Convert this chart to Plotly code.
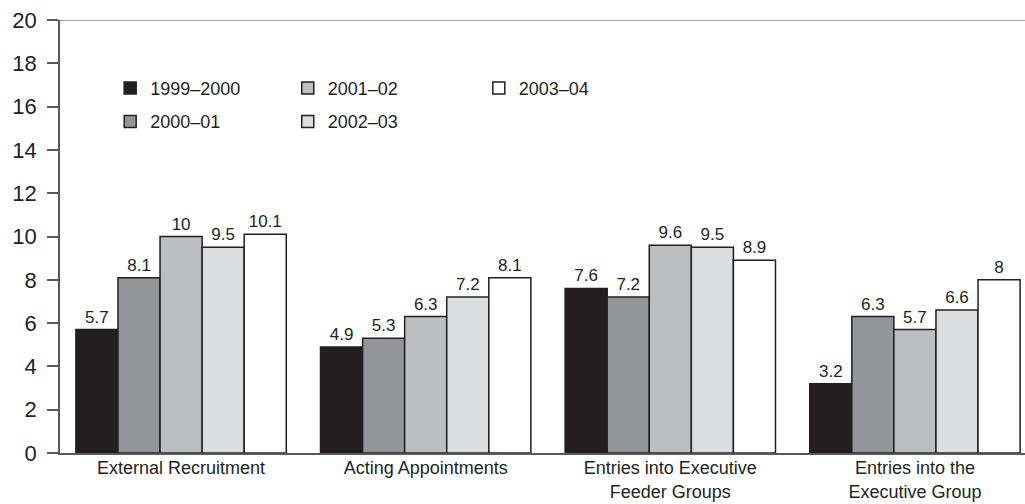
import plotly.graph_objects as go

categories = ["External Recruitment", "Acting Appointments",
              "Entries into Executive<br>Feeder Groups", "Entries into the<br>Executive Group"]
series_names = ["1999–2000", "2000–01", "2001–02", "2002–03", "2003–04"]
v_1999_2000 = [5.7, 4.9, 7.6, 3.2]
v_2000_01 = [8.1, 5.3, 7.2, 6.3]
v_2001_02 = [10, 6.3, 9.6, 5.7]
v_2002_03 = [9.5, 7.2, 9.5, 6.6]
v_2003_04 = [10.1, 8.1, 8.9, 8]
y_ticks = [0, 2, 4, 6, 8, 10, 12, 14, 16, 18, 20]

values = [v_1999_2000, v_2000_01, v_2001_02, v_2002_03, v_2003_04]
colors = ["#231f20", "#939598", "#bcbec0", "#dcddde", "#ffffff"]
legend_of = ["legend", "legend", "legend2", "legend2", "legend3"]

FONT = "Liberation Sans, Arial, sans-serif"
TXT = "#231f20"

fig = go.Figure()
for name, vals, col, lg in zip(series_names, values, colors, legend_of):
    fig.add_trace(go.Bar(
        name=name, x=categories, y=vals,
        marker=dict(color=col, line=dict(color="#231f20", width=1.5)),
        text=[f"{v:g}" for v in vals], textposition="outside",
        textfont=dict(family=FONT, size=17, color=TXT),
        cliponaxis=False, legend=lg, legendgroup=name,
    ))

legend_common = dict(orientation="v", font=dict(family=FONT, size=18, color=TXT),
                     bgcolor="rgba(0,0,0,0)", tracegroupgap=7,
                     xanchor="left", yanchor="top", y=0.885)

fig.update_layout(
    width=1025, height=504,
    margin=dict(l=60, r=0, t=20, b=51, autoexpand=False),
    paper_bgcolor="white", plot_bgcolor="white",
    barmode="group", bargap=0.14, bargroupgap=0,
    font=dict(family=FONT, color=TXT),
    legend=dict(x=0.052, **legend_common),
    legend2=dict(x=0.236, **legend_common),
    legend3=dict(x=0.434, **legend_common),
    xaxis=dict(range=[-0.495, 3.45], showgrid=False, showline=True,
               linecolor="#58595b", linewidth=1.5, ticks="", automargin=False,
               ticklabelstandoff=-2,
               tickfont=dict(family=FONT, size=18, color=TXT)),
    yaxis=dict(range=[0, 20], tickvals=y_ticks, showgrid=False, zeroline=False,
               showline=True, linecolor="#58595b", linewidth=1.5, automargin=False,
               ticks="outside", ticklen=11, tickcolor="#58595b", tickwidth=1.5,
               ticklabelstandoff=6,
               tickfont=dict(family=FONT, size=22, color=TXT)),
    shapes=[dict(type="line", xref="paper", yref="y", x0=0, x1=1, y0=20, y1=20,
                 line=dict(color="#a7a9ac", width=2))],
)

fig.write_html("out.html", config={"displayModeBar": False},
               post_script="document.body.style.margin='0';")
